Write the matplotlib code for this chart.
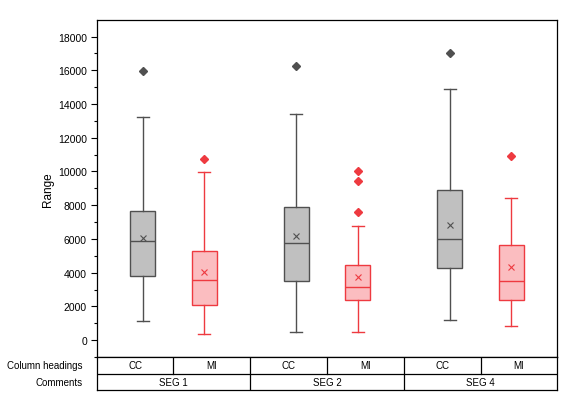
import numpy as np
import matplotlib.pyplot as plt

plt.rcParams['font.family'] = ['Liberation Sans', 'DejaVu Sans']

# Datos (cuartiles, bigotes, media y atipicos)
segmentos = ["SEG 1", "SEG 2", "SEG 4"]
columnas = ["CC", "MI"]
grupos = ["CC", "MI", "CC", "MI", "CC", "MI"]

bigote_inf = [1130, 380, 500, 500, 1210, 850]
q1 = [3810, 2100, 3520, 2370, 4290, 2390]
mediana = [5890, 3580, 5770, 3160, 6000, 3520]
q3 = [7660, 5290, 7900, 4440, 8880, 5650]
bigote_sup = [13260, 9970, 13400, 6750, 14920, 8430]
media = [6060, 4050, 6160, 3750, 6830, 4320]
atipicos = [[15970], [10720], [16260], [7580, 9410, 10010], [17020], [10890]]

colores_borde = {"CC": "#505050", "MI": "#EE3A40"}
colores_relleno = {"CC": "#C0C0C0", "MI": "#FBBDC0"}

# Posiciones: cada segmento en 1, 2, 3 con CC a la izquierda y MI a la derecha
posiciones = []
for i in range(len(segmentos)):
    posiciones += [i + 1 - 0.2, i + 1 + 0.2]

fig = plt.figure(figsize=(5.8, 4.1), dpi=100)
ax = fig.add_axes([96.7 / 580, 52 / 410, 460.6 / 580, 337.3 / 410])

for k in range(len(grupos)):
    stats = [{
        "whislo": bigote_inf[k], "q1": q1[k], "med": mediana[k],
        "q3": q3[k], "whishi": bigote_sup[k], "mean": media[k],
        "fliers": np.array(atipicos[k]),
    }]
    borde = colores_borde[grupos[k]]
    ax.bxp(stats, positions=[posiciones[k]], widths=0.165, capwidths=0.08,
           patch_artist=True, showmeans=True, manage_ticks=False,
           boxprops=dict(facecolor=colores_relleno[grupos[k]], edgecolor=borde, linewidth=1.0),
           medianprops=dict(color=borde, linewidth=1.0),
           whiskerprops=dict(color=borde, linewidth=1.0),
           capprops=dict(color=borde, linewidth=1.0),
           meanprops=dict(marker="x", markeredgecolor=borde, markersize=4, markeredgewidth=0.8),
           flierprops=dict(marker="D", markerfacecolor=borde, markeredgecolor=borde, markersize=4))

ax.set_xlim(0.5, 3.5)
ax.set_ylim(-1000, 19000)
ax.set_yticks(np.arange(0, 18001, 2000))
ax.set_yticks(np.arange(-1000, 19000, 1000), minor=True)
ax.set_xticks([])
ax.tick_params(axis="y", which="major", length=4, width=0.8, labelsize=7.5, pad=3)
ax.tick_params(axis="y", which="minor", length=2.5, width=0.8)
for s in ax.spines.values():
    s.set_linewidth(0.9)
ax.set_ylabel("Range", fontsize=8.5, labelpad=3)

# Tabla inferior con encabezados de columna y comentarios
tab = fig.add_axes([96.7 / 580, 19 / 410, 460.6 / 580, 33 / 410])
tab.set_xlim(0.5, 3.5)
tab.set_ylim(0, 2)
tab.set_xticks([])
tab.set_yticks([])
for s in tab.spines.values():
    s.set_linewidth(0.9)
tab.axhline(1, color="black", linewidth=0.9)
for i in range(len(segmentos)):
    centro = i + 1
    tab.plot([centro, centro], [1, 2], color="black", linewidth=0.9)
    if i > 0:
        tab.plot([centro - 0.5, centro - 0.5], [0, 2], color="black", linewidth=0.9)
    tab.text(centro, 0.5, segmentos[i], ha="center", va="center", fontsize=7)
    for j, nombre in enumerate(columnas):
        tab.text(centro - 0.25 + 0.5 * j, 1.5, nombre, ha="center", va="center", fontsize=7)
tab.text(-0.03, 1.5, "Column headings", transform=tab.get_yaxis_transform(),
         ha="right", va="center", fontsize=7)
tab.text(-0.03, 0.5, "Comments", transform=tab.get_yaxis_transform(),
         ha="right", va="center", fontsize=7)

fig.savefig("out.png", dpi=100)
